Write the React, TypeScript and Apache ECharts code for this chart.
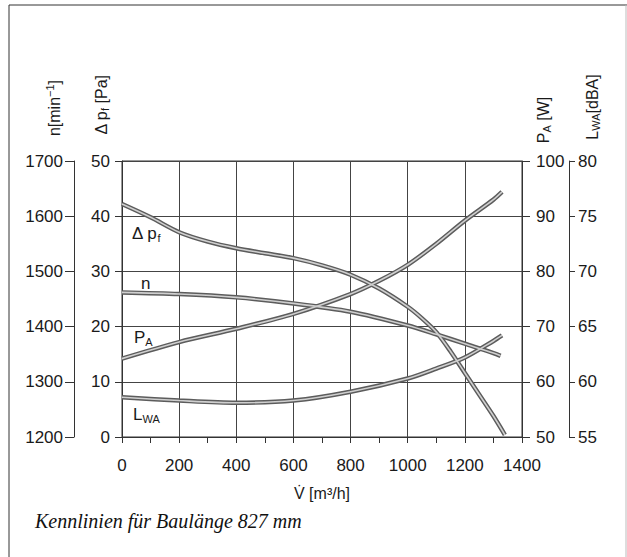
import React, { useEffect, useRef } from "react";
import * as echarts from "echarts";

// Δp_f [Pa]
const dpFlow = [0, 100, 200, 300, 400, 500, 600, 700, 800, 900, 1000, 1050, 1100, 1150, 1200, 1250, 1300, 1340];
const dpValues = [42.2, 39.8, 37.1, 35.4, 34.2, 33.3, 32.4, 31.1, 29.4, 26.9, 23.6, 21.5, 19.0, 15.5, 11.6, 7.7, 3.8, 0.4];

// n [min^-1]
const nFlow = [0, 200, 400, 600, 800, 1000, 1100, 1200, 1300, 1325];
const nValues = [1462, 1459, 1453, 1442, 1427, 1402, 1386, 1369, 1352, 1347];

// P_A [W]
const paFlow = [0, 200, 400, 600, 800, 900, 1000, 1100, 1200, 1300, 1330];
const paValues = [64.2, 67.2, 69.6, 72.3, 75.9, 78.3, 81.2, 85.0, 89.2, 93.0, 94.4];

// L_WA [dBA]
const lwFlow = [0, 200, 400, 600, 800, 1000, 1100, 1200, 1300, 1330];
const lwValues = [58.6, 58.3, 58.1, 58.3, 59.1, 60.3, 61.2, 62.2, 63.7, 64.2];

const xTicks = { min: 0, max: 1400, interval: 200 };
const dpTicks = { min: 0, max: 50, interval: 10 };
const nTicks = { min: 1200, max: 1700, interval: 100 };
const paTicks = { min: 50, max: 100, interval: 10 };
const lwTicks = { min: 55, max: 80, interval: 5 };

const FONT = "Liberation Sans";
const TXT = "#1a1a1a";
const AX = "#333";
const plain = (v: number) => String(v);

function pairs(xs: number[], ys: number[]) {
  return xs.map((x, i) => [x, ys[i]]);
}

function curve(name: string, xs: number[], ys: number[], yAxisIndex: number) {
  const data = pairs(xs, ys);
  const common = {
    type: "line",
    yAxisIndex,
    data,
    smooth: 0.3,
    symbol: "none",
  };
  return [
    { ...common, name, lineStyle: { width: 4.5, color: "#5c5c5c" }, z: 3 },
    { ...common, name: name + "-inner", lineStyle: { width: 1.6, color: "#cfcfcf" }, z: 4 },
  ];
}

function yAxis(ticks: any, position: string, offset: number, margin: number, tickLen: number, split: boolean) {
  return {
    type: "value",
    position,
    offset,
    ...ticks,
    axisLine: { show: true, lineStyle: { color: AX, width: 1 } },
    axisTick: { show: true, length: tickLen, lineStyle: { color: AX } },
    axisLabel: { fontFamily: FONT, fontSize: 17, color: TXT, margin, formatter: plain },
    splitLine: { show: split, lineStyle: { color: "#444", width: 1 } },
  };
}

export default function App() {
  const ref = useRef<HTMLDivElement>(null);
  useEffect(() => {
    if (!ref.current) return;
    const chart = echarts.init(ref.current, null, { renderer: "svg" });
    const rot = Math.PI / 2;
    const vText = (x: number, y: number, rich: any, text: string) => ({
      type: "text",
      x,
      y,
      rotation: rot,
      style: {
        text,
        rich,
        fontFamily: FONT,
        fontSize: 16,
        fill: TXT,
        align: "center",
        verticalAlign: "middle",
      },
    });
    const sub = { fontSize: 11, fontFamily: FONT, fill: TXT, verticalAlign: "bottom", padding: [8, 0, 0, 0] };
    const sup = { fontSize: 11, fontFamily: FONT, fill: TXT, padding: [0, 0, 8, 0] };
    const base = { fontSize: 16, fontFamily: FONT, fill: TXT };
    const label = (x: number, y: number, text: string) => ({
      type: "text",
      x,
      y,
      style: {
        text,
        rich: {
          b: { fontSize: 17, fontFamily: FONT, fill: TXT },
          s: { fontSize: 11, fontFamily: FONT, fill: TXT, padding: [9, 0, 0, 0] },
        },
        fontFamily: FONT,
        fontSize: 17,
        fill: TXT,
        verticalAlign: "middle",
      },
    });
    chart.setOption({
      animation: false,
      backgroundColor: "#ffffff",
      grid: {
        left: 122,
        right: 105,
        top: 161,
        bottom: 120,
        show: true,
        borderColor: AX,
        borderWidth: 1,
      },
      xAxis: {
        type: "value",
        ...xTicks,
        name: "V\u0307 [m\u00B3/h]",
        nameLocation: "middle",
        nameGap: 48,
        nameTextStyle: { fontFamily: FONT, fontSize: 16, color: TXT },
        axisLine: { show: true, lineStyle: { color: AX } },
        axisTick: { show: true, length: 6, lineStyle: { color: AX } },
        minorTick: { show: true, splitNumber: 2, length: 6, lineStyle: { color: AX } },
        axisLabel: { fontFamily: FONT, fontSize: 17, color: TXT, margin: 20, formatter: plain },
        splitLine: { show: true, lineStyle: { color: "#444", width: 1 } },
      },
      yAxis: [
        yAxis(dpTicks, "left", 0, 12, 7, true),
        yAxis(nTicks, "left", 48, 11, 9, false),
        yAxis(paTicks, "right", 0, 14, 8, false),
        yAxis(lwTicks, "right", 47, 9, 6, false),
      ],
      series: [
        ...curve("dp", dpFlow, dpValues, 0),
        ...curve("n", nFlow, nValues, 1),
        ...curve("PA", paFlow, paValues, 2),
        ...curve("LWA", lwFlow, lwValues, 3),
      ],
      graphic: [
        { type: "line", shape: { x1: 9, y1: 5, x2: 9, y2: 557 }, style: { stroke: "#333", lineWidth: 1 } },
        { type: "line", shape: { x1: 9, y1: 5, x2: 627, y2: 5 }, style: { stroke: "#333", lineWidth: 1 } },
        { type: "line", shape: { x1: 626, y1: 5, x2: 626, y2: 557 }, style: { stroke: "#bbb", lineWidth: 1 } },
        vText(54, 108, { b: base, p: sup }, "{b|n[min}{p|−1}{b|]}"),
        vText(101, 105, { b: base, s: sub }, "{b|Δ p}{s|f}{b| [Pa]}"),
        vText(543, 120, { b: base, s: sub }, "{b|P}{s|A}{b| [W]}"),
        vText(592, 107, { b: base, s: sub }, "{b|L}{s|WA}{b|[dBA]}"),
        label(132, 233, "{b|Δ p}{s|f}"),
        label(141, 283, "{b|n}"),
        label(134, 337, "{b|P}{s|A}"),
        label(133, 414, "{b|L}{s|WA}"),
        {
          type: "text",
          x: 35,
          y: 521,
          style: {
            text: "Kennlinien für Baulänge 827 mm",
            fontFamily: "Liberation Serif",
            fontStyle: "italic",
            fontSize: 20,
            fill: "#111",
            verticalAlign: "middle",
          },
        },
      ],
    });
    return () => chart.dispose();
  }, []);
  return (
    <div
      ref={ref}
      style={{ position: "fixed", left: 0, top: 0, width: 627, height: 557, background: "#fff" }}
    />
  );
}
